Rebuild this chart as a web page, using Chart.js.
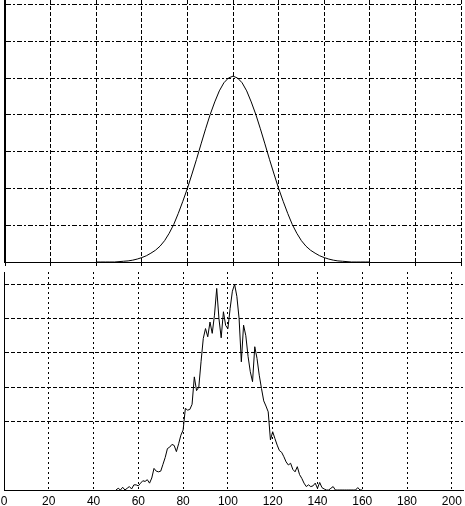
<!DOCTYPE html>
<html>
<head>
<meta charset="utf-8">
<script src="https://cdn.jsdelivr.net/npm/chart.js@4.4.1/dist/chart.umd.min.js"></script>
<style>
  html, body { margin: 0; padding: 0; background: #fff; }
  body { width: 465px; height: 506px; overflow: hidden; position: relative; }
  canvas { position: absolute; left: 0; }
  #topChart { top: 0; }
  #bottomChart { top: 268px; }
</style>
</head>
<body>
<canvas id="topChart" width="465" height="266"></canvas>
<canvas id="bottomChart" width="465" height="240"></canvas>
<script>
// Tick positions shared by both panels
const xTicks = [0, 20, 40, 60, 80, 100, 120, 140, 160, 180, 200];
const topYTicks = [0, 1, 2, 3, 4, 5, 6, 7];
const bottomYTicks = [0, 2, 3, 4, 5, 6];

// Top panel: smooth bell curve (grid units)
const topX = [40, 42, 44, 46, 48, 50, 52, 54, 56, 58, 60, 62, 64, 66, 68, 70, 72, 74, 76, 78,
  80, 82, 84, 86, 88, 90, 92, 94, 96, 98, 100, 102, 104, 106, 108, 110, 112, 114, 116, 118,
  120, 122, 124, 126, 128, 130, 132, 134, 136, 138, 140, 142, 144, 146, 148, 150, 152, 154, 156, 158, 160];
const topY = [0, 0, 0, 0, 0, 0.01, 0.02, 0.03, 0.05, 0.08, 0.12, 0.17, 0.24, 0.32, 0.43, 0.58, 0.78, 1.02, 1.32, 1.65,
  2.00, 2.39, 2.79, 3.21, 3.62, 4.01, 4.35, 4.65, 4.87, 5.00, 5.05, 5.00, 4.87, 4.65, 4.35, 4.01, 3.62, 3.21, 2.79, 2.39,
  2.00, 1.65, 1.32, 1.02, 0.78, 0.58, 0.43, 0.32, 0.24, 0.17, 0.12, 0.08, 0.05, 0.03, 0.02, 0.01, 0, 0, 0, 0, 0];

// Bottom panel: noisy sampled histogram
const bottomX = [50, 51, 52, 53, 54, 55, 56, 57, 58, 59, 60, 61, 62, 63, 64, 65, 66, 67, 68, 69,
  70, 71, 72, 73, 74, 75, 76, 77, 78, 79, 80, 81, 82, 83, 84, 85, 86, 87, 88, 89,
  90, 91, 92, 93, 94, 95, 96, 97, 98, 99, 100, 101, 102, 103, 104, 105, 106, 107, 108, 109,
  110, 111, 112, 113, 114, 115, 116, 117, 118, 119, 120, 121, 122, 123, 124, 125, 126, 127, 128, 129,
  130, 131, 132, 133, 134, 135, 136, 137, 138, 139, 140, 141, 142, 143, 144, 145, 146, 147, 148, 149,
  150, 151, 152, 153, 154, 155, 156, 157, 158, 159, 160];
const bottomY = [0, 0.05, 0, 0.08, 0, 0.05, 0.1, 0.03, 0.15, 0.15, 0.12, 0.2, 0.27, 0.25, 0.3, 0.2, 0.35, 0.63, 0.55, 0.53,
  0.55, 0.75, 0.95, 1.21, 1.25, 1.33, 1.3, 1.12, 1.35, 1.6, 1.75, 2.38, 2.33, 2.35, 2.5, 3.3, 2.9, 3.0, 3.74, 4.42,
  4.71, 4.47, 4.9, 4.57, 5.1, 5.88, 5.0, 4.44, 5.2, 4.8, 4.71, 5.3, 5.8, 6.0, 5.65, 5.0, 3.74, 4.81, 4.5, 3.9,
  3.45, 3.16, 4.18, 3.84, 3.35, 2.96, 2.6, 2.45, 2.28, 1.46, 1.7, 1.5, 1.31, 1.15, 1.1, 0.97, 0.82, 0.73, 0.78, 0.6,
  0.53, 0.68, 0.45, 0.34, 0.2, 0.1, 0.15, 0.1, 0.12, 0.2, 0.05, 0.22, 0.07, 0.03, 0, 0, 0.05, 0.1, 0, 0,
  0, 0, 0, 0, 0, 0, 0, 0, 0.07, 0, 0];

function toPoints(xs, ys) {
    return xs.map((x, i) => ({ x: x, y: ys[i] }));
}

// Use only the listed tick values (no extra tick at the axis max)
function fixedTicks(values) {
    return function (scale) {
        scale.ticks = values.map(v => ({ value: v }));
    };
}

function lineDataset(points) {
    return {
        data: points,
        borderColor: '#000',
        borderWidth: 1,
        pointRadius: 0,
        tension: 0,
        fill: false
    };
}

const commonOptions = {
    responsive: false,
    animation: false,
    plugins: { legend: { display: false }, tooltip: { enabled: false } },
    elements: { line: { borderCapStyle: 'butt' } }
};

// Top chart
new Chart(document.getElementById('topChart'), {
    type: 'line',
    data: { datasets: [lineDataset(toPoints(topX, topY))] },
    options: {
        ...commonOptions,
        layout: { padding: { left: 5, right: 4, top: 0, bottom: 0 } },
        scales: {
            x: {
                type: 'linear',
                min: 0,
                max: 200,
                afterBuildTicks: fixedTicks(xTicks),
                ticks: { display: false },
                grid: { color: '#000', lineWidth: 1, drawTicks: true, tickLength: 4, tickColor: '#000' },
                border: { display: true, color: '#000', width: 1, dash: [4, 2] }
            },
            y: {
                min: 0,
                max: 7.12,
                afterBuildTicks: fixedTicks(topYTicks),
                ticks: { display: false },
                grid: { color: '#000', lineWidth: 1, drawTicks: false },
                border: { display: true, color: '#000', width: 2, dash: [5, 2, 2, 2] }
            }
        }
    }
});

// Bottom chart
new Chart(document.getElementById('bottomChart'), {
    type: 'line',
    data: { datasets: [lineDataset(toPoints(bottomX, bottomY))] },
    options: {
        ...commonOptions,
        layout: { padding: { left: 4, right: 2, top: 4, bottom: 0 } },
        scales: {
            x: {
                type: 'linear',
                min: 0,
                max: 205,
                afterBuildTicks: fixedTicks(xTicks),
                ticks: {
                    color: '#000',
                    padding: 0,
                    maxRotation: 0,
                    font: { family: "'Liberation Sans', Arial, sans-serif", size: 12, lineHeight: 1 }
                },
                // invisible tick marks keep the gap between axis and labels
                grid: { color: '#000', lineWidth: 1, drawTicks: true, tickLength: 6, tickColor: 'rgba(0,0,0,0)' },
                border: { display: true, color: '#000', width: 1, dash: [2, 3] }
            },
            y: {
                min: 0,
                max: 6.36,
                afterBuildTicks: fixedTicks(bottomYTicks),
                ticks: { display: false },
                grid: { color: '#000', lineWidth: 1, drawTicks: false },
                border: { display: true, color: '#000', width: 1, dash: [4, 2] }
            }
        }
    }
});
</script>
</body>
</html>
